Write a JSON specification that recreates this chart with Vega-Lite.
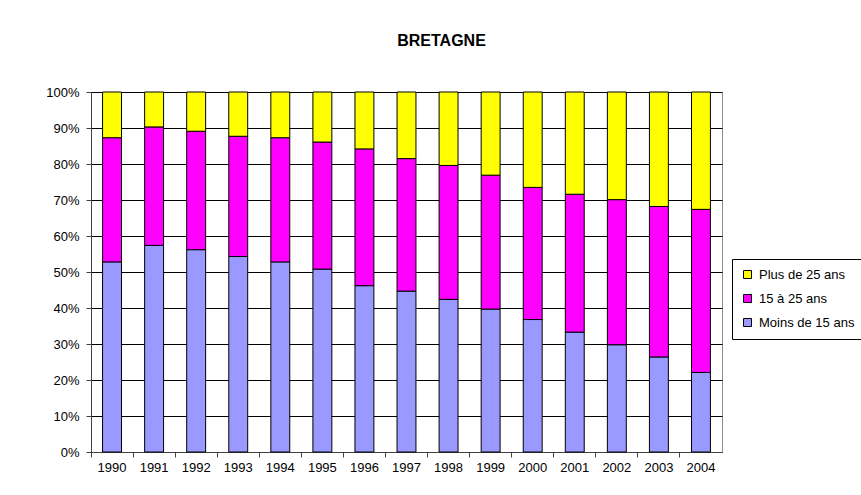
{
  "$schema": "https://vega.github.io/schema/vega-lite/v6.json",
  "width": 631,
  "height": 360,
  "autosize": "none",
  "padding": {"left": 91, "top": 92, "right": 139, "bottom": 43},
  "background": "white",
  "title": {"text": "BRETAGNE", "font": "Liberation Sans", "fontSize": 16, "fontWeight": "bold", "color": "black", "offset": 37, "dx": 35, "anchor": "middle"},
  "config": {"view": {"stroke": "#8c8c8c", "strokeWidth": 1}},
  "data": {"values": [
    {"year": "1990", "group": "Moins de 15 ans", "rank": 1, "pct": 52.8}, {"year": "1990", "group": "15 à 25 ans", "rank": 2, "pct": 34.5}, {"year": "1990", "group": "Plus de 25 ans", "rank": 3, "pct": 12.7},
    {"year": "1991", "group": "Moins de 15 ans", "rank": 1, "pct": 57.4}, {"year": "1991", "group": "15 à 25 ans", "rank": 2, "pct": 32.9}, {"year": "1991", "group": "Plus de 25 ans", "rank": 3, "pct": 9.7},
    {"year": "1992", "group": "Moins de 15 ans", "rank": 1, "pct": 56.2}, {"year": "1992", "group": "15 à 25 ans", "rank": 2, "pct": 32.9}, {"year": "1992", "group": "Plus de 25 ans", "rank": 3, "pct": 10.9},
    {"year": "1993", "group": "Moins de 15 ans", "rank": 1, "pct": 54.3}, {"year": "1993", "group": "15 à 25 ans", "rank": 2, "pct": 33.4}, {"year": "1993", "group": "Plus de 25 ans", "rank": 3, "pct": 12.3},
    {"year": "1994", "group": "Moins de 15 ans", "rank": 1, "pct": 52.8}, {"year": "1994", "group": "15 à 25 ans", "rank": 2, "pct": 34.5}, {"year": "1994", "group": "Plus de 25 ans", "rank": 3, "pct": 12.7},
    {"year": "1995", "group": "Moins de 15 ans", "rank": 1, "pct": 50.8}, {"year": "1995", "group": "15 à 25 ans", "rank": 2, "pct": 35.3}, {"year": "1995", "group": "Plus de 25 ans", "rank": 3, "pct": 13.9},
    {"year": "1996", "group": "Moins de 15 ans", "rank": 1, "pct": 46.2}, {"year": "1996", "group": "15 à 25 ans", "rank": 2, "pct": 38.0}, {"year": "1996", "group": "Plus de 25 ans", "rank": 3, "pct": 15.8},
    {"year": "1997", "group": "Moins de 15 ans", "rank": 1, "pct": 44.7}, {"year": "1997", "group": "15 à 25 ans", "rank": 2, "pct": 36.8}, {"year": "1997", "group": "Plus de 25 ans", "rank": 3, "pct": 18.5},
    {"year": "1998", "group": "Moins de 15 ans", "rank": 1, "pct": 42.4}, {"year": "1998", "group": "15 à 25 ans", "rank": 2, "pct": 37.2}, {"year": "1998", "group": "Plus de 25 ans", "rank": 3, "pct": 20.4},
    {"year": "1999", "group": "Moins de 15 ans", "rank": 1, "pct": 39.7}, {"year": "1999", "group": "15 à 25 ans", "rank": 2, "pct": 37.2}, {"year": "1999", "group": "Plus de 25 ans", "rank": 3, "pct": 23.1},
    {"year": "2000", "group": "Moins de 15 ans", "rank": 1, "pct": 36.8}, {"year": "2000", "group": "15 à 25 ans", "rank": 2, "pct": 36.7}, {"year": "2000", "group": "Plus de 25 ans", "rank": 3, "pct": 26.5},
    {"year": "2001", "group": "Moins de 15 ans", "rank": 1, "pct": 33.3}, {"year": "2001", "group": "15 à 25 ans", "rank": 2, "pct": 38.3}, {"year": "2001", "group": "Plus de 25 ans", "rank": 3, "pct": 28.4},
    {"year": "2002", "group": "Moins de 15 ans", "rank": 1, "pct": 29.8}, {"year": "2002", "group": "15 à 25 ans", "rank": 2, "pct": 40.3}, {"year": "2002", "group": "Plus de 25 ans", "rank": 3, "pct": 29.9},
    {"year": "2003", "group": "Moins de 15 ans", "rank": 1, "pct": 26.4}, {"year": "2003", "group": "15 à 25 ans", "rank": 2, "pct": 41.8}, {"year": "2003", "group": "Plus de 25 ans", "rank": 3, "pct": 31.8},
    {"year": "2004", "group": "Moins de 15 ans", "rank": 1, "pct": 22.1}, {"year": "2004", "group": "15 à 25 ans", "rank": 2, "pct": 45.3}, {"year": "2004", "group": "Plus de 25 ans", "rank": 3, "pct": 32.6}
  ]},
  "mark": {"type": "bar", "stroke": "black", "strokeWidth": 1, "width": {"band": 0.45}},
  "encoding": {
    "x": {
      "field": "year", "type": "nominal", "title": null,
      "scale": {"paddingInner": 0, "paddingOuter": 0},
      "axis": {"labelAngle": 0, "labelFont": "Liberation Sans", "labelFontSize": 13, "labelColor": "black", "labelPadding": 4, "tickSize": 5, "tickColor": "#404040", "domainColor": "#404040", "bandPosition": 0, "labelOffset": 0, "grid": false}
    },
    "y": {
      "field": "pct", "type": "quantitative", "stack": "normalize", "title": null,
      "axis": {"format": ".0%", "values": [0, 0.1, 0.2, 0.3, 0.4, 0.5, 0.6, 0.7, 0.8, 0.9, 1], "labelFont": "Liberation Sans", "labelFontSize": 13, "labelColor": "black", "labelPadding": 7, "tickSize": 5, "tickColor": "#404040", "domainColor": "#404040", "grid": true, "gridColor": "black", "gridOpacity": 1, "gridWidth": 1}
    },
    "order": {"field": "rank", "type": "quantitative", "sort": "ascending"},
    "color": {
      "field": "group", "type": "nominal",
      "scale": {"domain": ["Plus de 25 ans", "15 à 25 ans", "Moins de 15 ans"], "range": ["#FFFF00", "#FF00FF", "#9999FF"]},
      "legend": {
        "title": null,
        "orient": "none", "legendX": 641, "legendY": 167,
        "strokeColor": "black", "fillColor": "white", "padding": 9,
        "symbolType": "square", "symbolSize": 64, "symbolStrokeColor": "black", "symbolStrokeWidth": 1,
        "labelFont": "Liberation Sans", "labelFontSize": 13, "labelColor": "black", "rowPadding": 10, "labelOffset": 5, "labelLimit": 200
      }
    }
  }
}
